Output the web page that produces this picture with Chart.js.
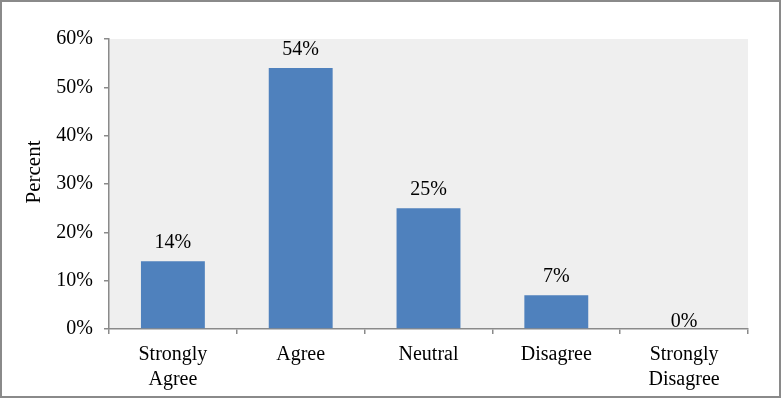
<!DOCTYPE html>
<html><head><meta charset="utf-8">
<script src="https://cdn.jsdelivr.net/npm/chart.js@4"></script>
<style>html,body{margin:0;padding:0;background:#fff}#wrap{width:781px;height:398px;position:relative}</style>
</head><body><div id="wrap"><canvas id="c" width="781" height="398"></canvas></div>
<script>
const categories = [["Strongly","Agree"],"Agree","Neutral","Disagree",["Strongly","Disagree"]];
const percentValues = [14, 54, 25, 7, 0];
const yTickMax = 60;
const yTickStep = 10;
const yTitle = "Percent";

const FONT = "'Liberation Serif','Times New Roman',serif";

const bgPlugin = {
  id: 'bg',
  beforeDraw(chart) {
    const {ctx, chartArea: a} = chart;
    ctx.save();
    ctx.fillStyle = '#fff';
    ctx.fillRect(0, 0, chart.width, chart.height);
    ctx.fillStyle = '#efefef';
    ctx.fillRect(a.left, a.top, a.right - a.left, a.bottom - a.top);
    ctx.restore();
  },
  afterDraw(chart) {
    const ctx = chart.ctx;
    ctx.save();
    // y-axis title
    ctx.font = '21px ' + FONT;
    ctx.fillStyle = '#000';
    ctx.textAlign = 'center';
    ctx.textBaseline = 'middle';
    ctx.translate(34, 172);
    ctx.rotate(-Math.PI / 2);
    ctx.fillText(yTitle, 0, 0);
    ctx.restore();
    ctx.save();
    ctx.strokeStyle = '#8a8a8a';
    ctx.lineWidth = 2;
    ctx.strokeRect(1, 1, chart.width - 2, chart.height - 2);
    ctx.restore();
  }
};

const labelPlugin = {
  id: 'labels',
  afterDatasetsDraw(chart) {
    const ctx = chart.ctx;
    const meta = chart.getDatasetMeta(0);
    ctx.save();
    ctx.font = '20px ' + FONT;
    ctx.fillStyle = '#000';
    ctx.textAlign = 'center';
    ctx.textBaseline = 'alphabetic';
    meta.data.forEach((bar, i) => {
      const off = percentValues[i] === 0 ? 2 : 13;
      ctx.fillText(percentValues[i] + '%', bar.x, bar.y - off);
    });
    ctx.restore();
  }
};

new Chart(document.getElementById('c'), {
  type: 'bar',
  data: {
    labels: categories,
    datasets: [{
      data: percentValues,
      backgroundColor: '#4f81bd',
      barPercentage: 0.5,
      categoryPercentage: 1.0
    }]
  },
  options: {
    responsive: false,
    animation: false,
    devicePixelRatio: 1,
    layout: { padding: { left: 0, right: 33, top: 39, bottom: 0 } },
    plugins: { legend: { display: false }, tooltip: { enabled: false } },
    scales: {
      x: {
        offset: true,
        grid: { offset: true, drawOnChartArea: false, drawTicks: true, tickLength: 5, color: '#8a8a8a', lineWidth: 1.5 },
        border: { color: '#8a8a8a', width: 1.5 },
        ticks: { font: { family: FONT, size: 20, lineHeight: 1.25 }, color: '#000', padding: 8, maxRotation: 0, autoSkip: false },
        afterFit(s) { s.height = 69; }
      },
      y: {
        min: 0, max: yTickMax,
        ticks: { stepSize: yTickStep, callback: v => v + '%', font: { family: FONT, size: 20 }, color: '#000', padding: 11 },
        grid: { drawOnChartArea: false, drawTicks: true, tickLength: 5, color: '#8a8a8a', lineWidth: 1.5 },
        border: { color: '#8a8a8a', width: 1.5 },
        title: { display: false, text: yTitle },
        afterFit(s) { s.width = 109; }
      }
    }
  },
  plugins: [bgPlugin, labelPlugin]
});
</script>
</body></html>
